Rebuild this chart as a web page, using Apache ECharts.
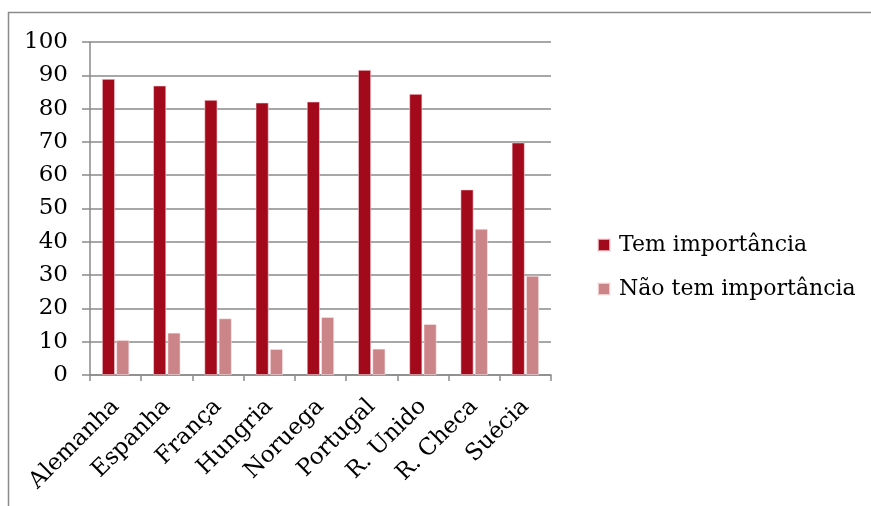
<!DOCTYPE html>
<html>
<head>
<meta charset="utf-8">
<script src="https://cdn.jsdelivr.net/npm/echarts@6/dist/echarts.min.js"></script>
<style>
html,body{margin:0;padding:0;background:#fff;}
#c{width:871px;height:506px;}
</style>
</head>
<body>
<div id="c"></div>
<script>
const categories = ['Alemanha','Espanha','França','Hungria','Noruega','Portugal','R. Unido','R. Checa','Suécia'];
const temImportancia = [88.9, 86.9, 82.6, 81.8, 82.1, 91.6, 84.4, 55.7, 69.8];
const naoTemImportancia = [10.5, 12.7, 17.0, 7.8, 17.4, 7.9, 15.3, 43.9, 29.8];
const yTicks = [0, 10, 20, 30, 40, 50, 60, 70, 80, 90, 100];
const seriesNames = ['Tem importância', 'Não tem importância'];

const FONT = 'DejaVu Serif';
const chart = echarts.init(document.getElementById('c'), null, {renderer: 'canvas'});
chart.setOption({
  animation: false,
  backgroundColor: '#ffffff',
  graphic: [{
    type: 'rect',
    shape: {x: 8.5, y: 12.5, width: 900, height: 600},
    style: {fill: 'none', stroke: '#8a8a8a', lineWidth: 1.5},
    z: -1
  }],
  grid: {left: 90, right: 320, top: 42, bottom: 131},
  legend: {
    orient: 'vertical',
    left: 592,
    top: 229,
    itemWidth: 12,
    itemHeight: 12,
    itemGap: 22,
    icon: 'rect',
    textStyle: {fontFamily: FONT, fontSize: 22, color: '#000', padding: [0, 0, 0, 4]},
    data: seriesNames
  },
  xAxis: {
    type: 'category',
    data: categories,
    boundaryGap: true,
    axisLine: {lineStyle: {color: '#8a8a8a', width: 1.5}},
    axisTick: {show: true, length: 6, alignWithLabel: false, lineStyle: {color: '#8a8a8a', width: 1.5}},
    axisLabel: {rotate: 45, margin: 28, interval: 0, fontFamily: FONT, fontSize: 23, color: '#000'}
  },
  yAxis: {
    type: 'value',
    min: yTicks[0],
    max: yTicks[yTicks.length - 1],
    interval: 10,
    axisLine: {show: true, lineStyle: {color: '#8a8a8a', width: 1.5}},
    axisTick: {show: true, length: 8, lineStyle: {color: '#8a8a8a', width: 1.5}},
    splitLine: {show: true, lineStyle: {color: '#8a8a8a', width: 1.5}},
    axisLabel: {margin: 22, fontFamily: FONT, fontSize: 23, color: '#000'}
  },
  series: [
    {
      name: seriesNames[0], type: 'bar', data: temImportancia,
      barWidth: 13, barGap: '10%',
      itemStyle: {color: '#A2091B', borderColor: 'rgba(255,220,225,0.7)', borderWidth: 0.8}
    },
    {
      name: seriesNames[1], type: 'bar', data: naoTemImportancia,
      barWidth: 13, barGap: '10%',
      itemStyle: {color: '#CB8487', borderColor: 'rgba(255,235,238,0.7)', borderWidth: 0.8}
    }
  ]
});
</script>
</body>
</html>
